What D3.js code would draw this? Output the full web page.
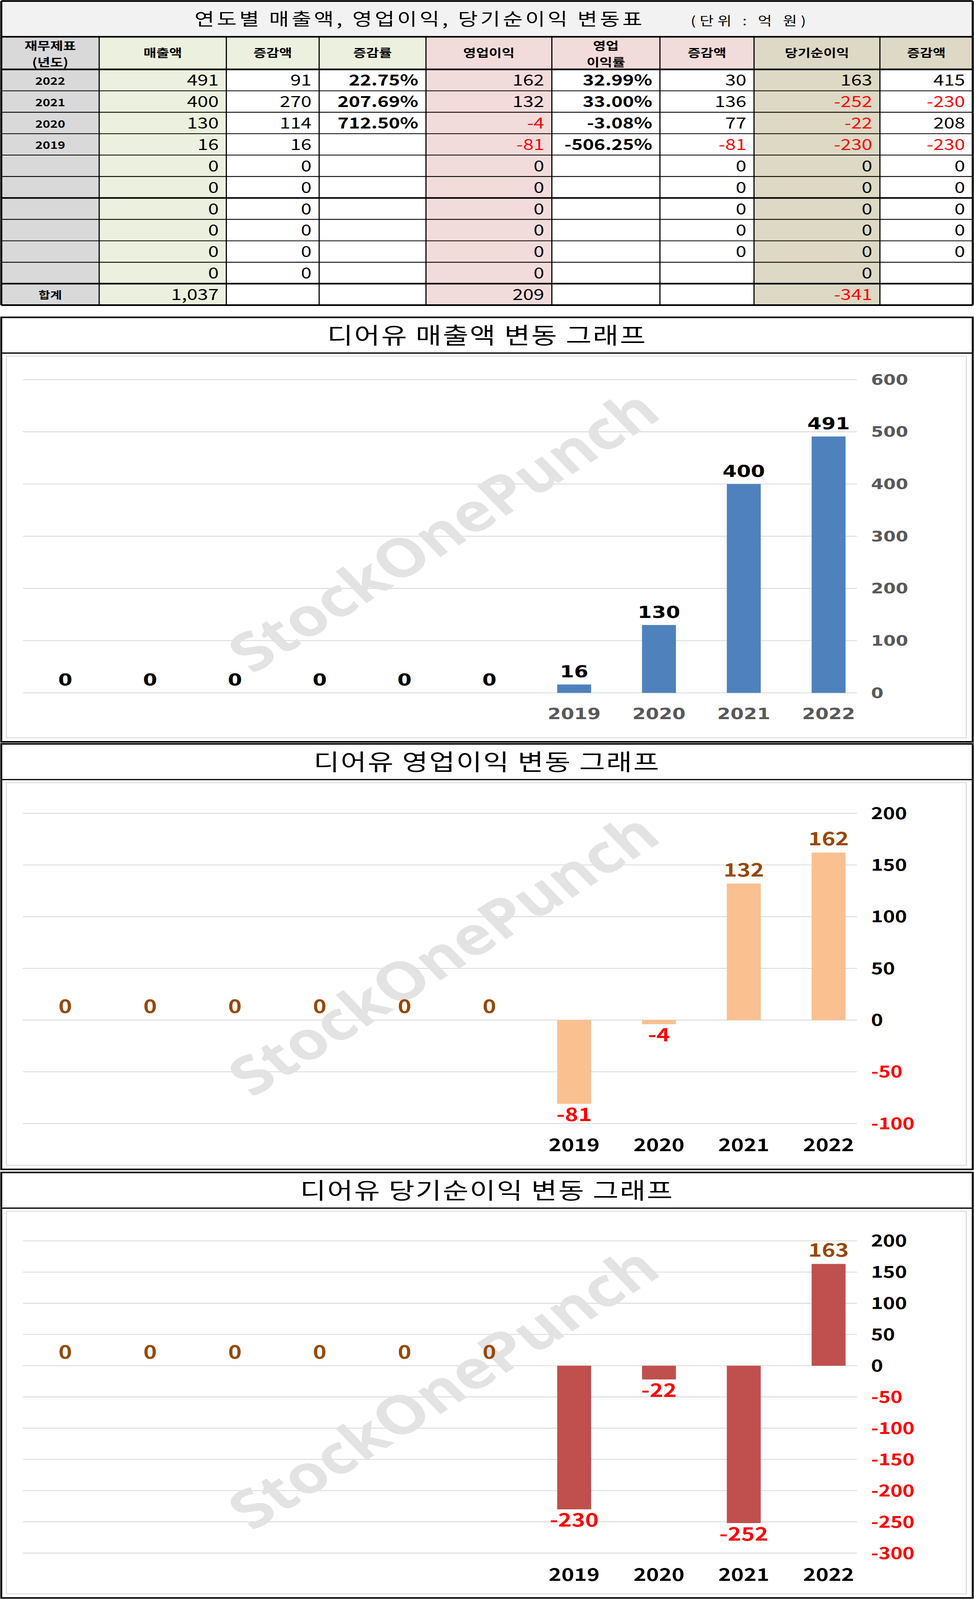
<!DOCTYPE html>
<html>
<head>
<meta charset="utf-8">
<script src="https://cdn.jsdelivr.net/npm/d3@7"></script>
<style>
  html, body { margin: 0; padding: 0; background: #fff; overflow: hidden; }
  svg { display: block; width: 100vw; height: 100vh; }
  svg text { font-family: "Noto Sans CJK KR", sans-serif; }
</style>
</head>
<body>
<script>
// chart data
const years = ['', '', '', '', '', '', '2019', '2020', '2021', '2022']
const sales = [0, 0, 0, 0, 0, 0, 16, 130, 400, 491]
const opProfit = [0, 0, 0, 0, 0, 0, -81, -4, 132, 162]
const netProfit = [0, 0, 0, 0, 0, 0, -230, -22, -252, 163]

const salesTicks = [0, 100, 200, 300, 400, 500, 600]
const opTicks = [-100, -50, 0, 50, 100, 150, 200]
const netTicks = [-300, -250, -200, -150, -100, -50, 0, 50, 100, 150, 200]

// table data
const tableHeaders = ['재무제표\n(년도)', '매출액', '증감액', '증감률', '영업이익', '영업\n이익률', '증감액', '당기순이익', '증감액']
const rowYears = ['2022', '2021', '2020', '2019', '', '', '', '', '', '', '합계']
const colSales = ['491', '400', '130', '16', '0', '0', '0', '0', '0', '0', '1,037']
const colSalesDiff = ['91', '270', '114', '16', '0', '0', '0', '0', '0', '0', '']
const colSalesRate = ['22.75%', '207.69%', '712.50%', '', '', '', '', '', '', '', '']
const colOp = ['162', '132', '-4', '-81', '0', '0', '0', '0', '0', '0', '209']
const colOpRate = ['32.99%', '33.00%', '-3.08%', '-506.25%', '', '', '', '', '', '', '']
const colOpDiff = ['30', '136', '77', '-81', '0', '0', '0', '0', '0', '', '']
const colNet = ['163', '-252', '-22', '-230', '0', '0', '0', '0', '0', '0', '-341']
const colNetDiff = ['415', '-230', '208', '-230', '0', '0', '0', '0', '0', '', '']

const narrow = '"Liberation Sans Narrow", "Noto Sans CJK KR", sans-serif'

// stretch to fill whatever window the page gets
const svg = d3.select('body').append('svg')
  .attr('viewBox', '0 0 766 1568')
  .attr('preserveAspectRatio', 'none')

// ---------- table ----------
const colX = [1, 78, 178, 251, 335, 434, 519, 593, 692, 765]
const headBg = ['#d9d9d9', '#ebf1de', '#ebf1de', '#ebf1de', '#f2dcdb', '#f2dcdb', '#f2dcdb', '#ddd9c4', '#ddd9c4']
const bodyBg = ['#d9d9d9', '#ebf1de', '#fff', '#fff', '#f2dcdb', '#fff', '#fff', '#ddd9c4', '#fff']
const cols = [rowYears, colSales, colSalesDiff, colSalesRate, colOp, colOpRate, colOpDiff, colNet, colNetDiff]
const boldCols = [3, 5]
const rowTop = 68, rowH = 21

const tbl = svg.append('g')
tbl.append('rect').attr('x', 1).attr('y', 1).attr('width', 764).attr('height', 35).attr('fill', '#f2f2f2')
tbl.append('text').attr('x', 330).attr('y', 25).attr('text-anchor', 'middle')
  .attr('font-size', 17).attr('letter-spacing', 2).text('연도별 매출액, 영업이익, 당기순이익 변동표')
tbl.append('text').attr('x', 590).attr('y', 25).attr('text-anchor', 'middle')
  .attr('font-size', 12).attr('letter-spacing', 3).text('(단위 : 억 원)')

for (let c = 0; c < 9; c++) {
  const x0 = colX[c], w = colX[c + 1] - colX[c]
  tbl.append('rect').attr('x', x0).attr('y', 36).attr('width', w).attr('height', 32).attr('fill', headBg[c])
  const lines = tableHeaders[c].split('\n')
  lines.forEach((l, i) => {
    tbl.append('text').attr('x', x0 + w / 2)
      .attr('y', lines.length == 1 ? 56 : 49 + i * 16)
      .attr('text-anchor', 'middle').attr('font-size', 11).attr('font-weight', 'bold').text(l)
  })
  cols[c].forEach((v, r) => {
    const y = rowTop + r * rowH
    tbl.append('rect').attr('x', x0).attr('y', y).attr('width', w).attr('height', rowH).attr('fill', bodyBg[c])
    if (c == 0) {
      tbl.append('text').attr('x', x0 + w / 2).attr('y', y + 15).attr('text-anchor', 'middle')
        .attr('font-size', 10).attr('font-weight', 'bold').text(v)
    } else {
      tbl.append('text').attr('x', colX[c + 1] - 6).attr('y', y + 16).attr('text-anchor', 'end')
        .style('font-family', narrow)
        .attr('font-size', 15).attr('font-weight', boldCols.includes(c) ? 'bold' : 'normal')
        .attr('fill', v.startsWith('-') && !boldCols.includes(c) ? '#ff0000' : '#000')
        .text(v)
    }
  })
}
// grid lines
for (let r = 0; r <= 11; r++) {
  const y = rowTop + r * rowH
  tbl.append('line').attr('x1', 1).attr('x2', 765).attr('y1', y).attr('y2', y)
    .attr('stroke', '#000').attr('stroke-width', (r == 0 || r == 10 || r == 11 || r == 6) ? 1.6 : 0.8)
}
tbl.append('line').attr('x1', 1).attr('x2', 765).attr('y1', 36).attr('y2', 36).attr('stroke', '#000').attr('stroke-width', 1.6)
colX.forEach((x, i) => {
  tbl.append('line').attr('x1', x).attr('x2', x).attr('y1', i == 0 || i == 9 ? 1 : 36).attr('y2', rowTop + 11 * rowH)
    .attr('stroke', '#000').attr('stroke-width', i == 0 || i == 9 ? 1.6 : 0.9)
})
tbl.append('line').attr('x1', 1).attr('x2', 765).attr('y1', 1).attr('y2', 1).attr('stroke', '#000').attr('stroke-width', 1.6)

// ---------- charts ----------
function drawChart(opt) {
  const g = svg.append('g')
  // panel
  g.append('rect').attr('x', 1).attr('y', opt.top).attr('width', 764).attr('height', opt.bottom - opt.top)
    .attr('fill', '#fff').attr('stroke', '#000').attr('stroke-width', 1.5)
  g.append('line').attr('x1', 1).attr('x2', 765).attr('y1', opt.top + 35).attr('y2', opt.top + 35)
    .attr('stroke', '#000').attr('stroke-width', 1.2)
  g.append('text').attr('x', 383).attr('y', opt.top + 26).attr('text-anchor', 'middle')
    .attr('font-size', 22).attr('letter-spacing', 1).text(opt.title)
  g.append('rect').attr('x', 5).attr('y', opt.top + 38).attr('width', 755).attr('height', opt.bottom - opt.top - 42)
    .attr('fill', 'none').attr('stroke', '#d9d9d9').attr('stroke-width', 0.8)

  const x = d3.scaleBand().domain(d3.range(years.length)).range([18, 685]).paddingInner(0.6).paddingOuter(0.3)
  const y = d3.scaleLinear().domain(opt.domain).range(opt.yRange)

  // gridlines
  g.selectAll('.grid').data(opt.ticks).enter().append('line')
    .attr('x1', 18).attr('x2', 674).attr('y1', d => y(d)).attr('y2', d => y(d))
    .attr('stroke', '#d9d9d9').attr('stroke-width', 0.8)

  // watermark
  g.append('text').attr('transform', `translate(360,${opt.wm}) rotate(-38)`)
    .attr('text-anchor', 'middle').attr('font-weight', 'bold')
    .attr('font-size', 52).attr('fill', '#e3e3e3').style('font-family', '"Open Sans", sans-serif')
    .text('StockOnePunch')

  // bars
  g.selectAll('.bar').data(opt.values).enter().append('rect')
    .attr('x', (d, i) => x(i)).attr('width', x.bandwidth())
    .attr('y', d => y(Math.max(0, d))).attr('height', d => Math.abs(y(d) - y(0)))
    .attr('fill', opt.color)

  // value labels
  g.selectAll('.lbl').data(opt.values).enter().append('text')
    .attr('x', (d, i) => x(i) + x.bandwidth() / 2)
    .attr('y', d => d < 0 ? y(d) + 17 : y(d) - 7)
    .attr('text-anchor', 'middle').attr('font-size', opt.font == 'narrow' ? 18 : 16).attr('font-weight', 'bold')
    .style('font-family', opt.font == 'narrow' ? narrow : '"DejaVu Sans", sans-serif')
    .attr('fill', d => d < 0 ? '#ff0000' : opt.labelColor)
    .text(d => d)

  // y axis labels (right side)
  const yAxis = d3.axisRight(y).tickValues(opt.ticks).tickSize(0).tickPadding(0)
  const ya = g.append('g').attr('transform', 'translate(685,0)').call(yAxis)
  ya.select('.domain').remove()
  ya.selectAll('text').attr('font-size', opt.font == 'narrow' ? 16 : 14).attr('font-weight', 'bold')
    .style('font-family', opt.font == 'narrow' ? narrow : '"DejaVu Sans", sans-serif')
    .attr('fill', d => d < 0 ? '#ff0000' : opt.tickColor)
    .text(d => d < 0 ? '-' + Math.abs(d) : d)

  // x axis labels
  const xAxis = d3.axisBottom(x).tickFormat(i => years[i]).tickSize(0).tickPadding(0)
  const xa = g.append('g').attr('transform', `translate(0,${opt.xLabelY})`).call(xAxis)
  xa.select('.domain').remove()
  xa.selectAll('text').attr('font-size', opt.font == 'narrow' ? 17 : 15).attr('font-weight', 'bold')
    .style('font-family', opt.font == 'narrow' ? narrow : '"DejaVu Sans", sans-serif').attr('fill', opt.tickColor)
}

drawChart({
  top: 311, bottom: 727, title: '디어유 매출액 변동 그래프', values: sales,
  domain: [0, 600], yRange: [679, 372], ticks: salesTicks, color: '#4f81bd',
  labelColor: '#000', tickColor: '#595959', xLabelY: 694, wm: 535, font: 'wide'
})
drawChart({
  top: 729, bottom: 1146, title: '디어유 영업이익 변동 그래프', values: opProfit,
  domain: [-100, 200], yRange: [1101, 797], ticks: opTicks, color: '#fac090',
  labelColor: '#984807', tickColor: '#000', xLabelY: 1116, wm: 950, font: 'narrow'
})
drawChart({
  top: 1149, bottom: 1566, title: '디어유 당기순이익 변동 그래프', values: netProfit,
  domain: [-300, 200], yRange: [1522, 1216], ticks: netTicks, color: '#c0504d',
  labelColor: '#984807', tickColor: '#000', xLabelY: 1537, wm: 1375, font: 'narrow'
})
</script>
</body>
</html>
